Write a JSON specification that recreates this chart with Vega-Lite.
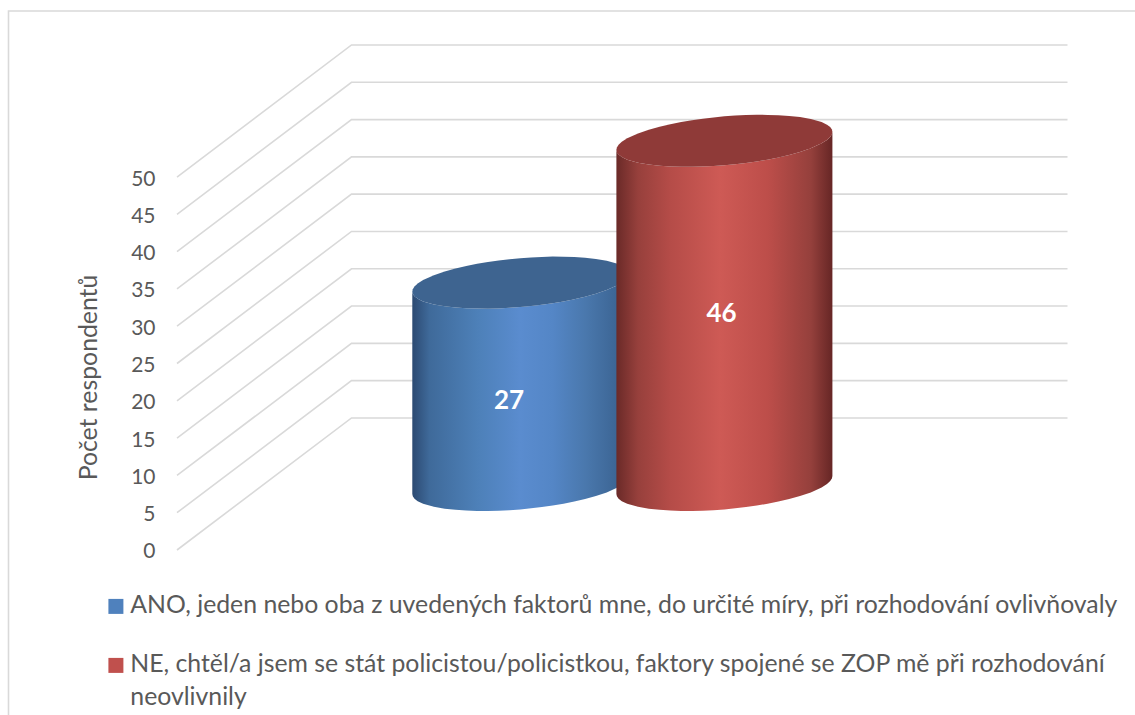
{"$schema":"https://vega.github.io/schema/vega-lite/v6.json","width":1135,"height":715,"autosize":{"type":"none"},"padding":0,"background":"white","config":{"view":{"stroke":null},"font":"Lato"},
"datasets":{
"frame":[{"x":8.5,"y":-22.12},{"x":8.5,"y":72.25},{"x":1135,"y":72.25}],
"grid":[
{"v":0,"x":177,"y":0},{"v":0,"x":351.5,"y":17.7},{"v":0,"x":1067.5,"y":17.7},
{"v":5,"x":177,"y":5},{"v":5,"x":351.5,"y":22.7},{"v":5,"x":1067.5,"y":22.7},
{"v":10,"x":177,"y":10},{"v":10,"x":351.5,"y":27.7},{"v":10,"x":1067.5,"y":27.7},
{"v":15,"x":177,"y":15},{"v":15,"x":351.5,"y":32.7},{"v":15,"x":1067.5,"y":32.7},
{"v":20,"x":177,"y":20},{"v":20,"x":351.5,"y":37.7},{"v":20,"x":1067.5,"y":37.7},
{"v":25,"x":177,"y":25},{"v":25,"x":351.5,"y":42.7},{"v":25,"x":1067.5,"y":42.7},
{"v":30,"x":177,"y":30},{"v":30,"x":351.5,"y":47.7},{"v":30,"x":1067.5,"y":47.7},
{"v":35,"x":177,"y":35},{"v":35,"x":351.5,"y":52.7},{"v":35,"x":1067.5,"y":52.7},
{"v":40,"x":177,"y":40},{"v":40,"x":351.5,"y":57.7},{"v":40,"x":1067.5,"y":57.7},
{"v":45,"x":177,"y":45},{"v":45,"x":351.5,"y":62.7},{"v":45,"x":1067.5,"y":62.7},
{"v":50,"x":177,"y":50},{"v":50,"x":351.5,"y":67.7},{"v":50,"x":1067.5,"y":67.7}],
"ano":[
{"x":412.3,"t":34.63,"m":34.63,"b":7.51},{"x":412.8,"t":34.96,"m":34.31,"b":7.19},{"x":414.5,"t":35.31,"m":34.00,"b":6.88},{"x":417.7,"t":35.72,"m":33.67,"b":6.55},{"x":423.1,"t":36.18,"m":33.32,"b":6.20},{"x":433.9,"t":36.84,"m":32.91,"b":5.79},{"x":444.7,"t":37.33,"m":32.66,"b":5.54},{"x":455.5,"t":37.74,"m":32.50,"b":5.38},{"x":466.3,"t":38.07,"m":32.40,"b":5.28},{"x":477.1,"t":38.36,"m":32.36,"b":5.24},{"x":487.9,"t":38.60,"m":32.35,"b":5.23},{"x":498.7,"t":38.81,"m":32.39,"b":5.27},{"x":509.5,"t":38.98,"m":32.46,"b":5.34},{"x":520.3,"t":39.12,"m":32.56,"b":5.44},{"x":531.1,"t":39.22,"m":32.70,"b":5.58},{"x":541.9,"t":39.29,"m":32.87,"b":5.75},{"x":552.7,"t":39.33,"m":33.08,"b":5.96},{"x":563.5,"t":39.32,"m":33.32,"b":6.20},{"x":574.3,"t":39.28,"m":33.61,"b":6.49},{"x":585.1,"t":39.18,"m":33.94,"b":6.82},{"x":595.9,"t":39.02,"m":34.35,"b":7.23},{"x":606.7,"t":38.77,"m":34.84,"b":7.72},{"x":617.5,"t":38.36,"m":35.50,"b":8.38},{"x":622.9,"t":38.01,"m":35.96,"b":8.84},{"x":626.1,"t":37.68,"m":36.37,"b":9.25},{"x":627.8,"t":37.37,"m":36.72,"b":9.60},{"x":628.3,"t":37.05,"m":37.05,"b":9.93}],
"ne":[
{"x":616.4,"t":53.64,"m":53.64,"b":7.51},{"x":616.9,"t":53.97,"m":53.32,"b":7.19},{"x":618.6,"t":54.32,"m":53.01,"b":6.88},{"x":621.8,"t":54.73,"m":52.68,"b":6.55},{"x":627.2,"t":55.19,"m":52.33,"b":6.20},{"x":638,"t":55.85,"m":51.92,"b":5.79},{"x":648.8,"t":56.34,"m":51.67,"b":5.54},{"x":659.6,"t":56.75,"m":51.51,"b":5.38},{"x":670.4,"t":57.08,"m":51.41,"b":5.28},{"x":681.2,"t":57.37,"m":51.37,"b":5.24},{"x":692,"t":57.61,"m":51.36,"b":5.23},{"x":702.8,"t":57.82,"m":51.40,"b":5.27},{"x":713.6,"t":57.99,"m":51.47,"b":5.34},{"x":724.4,"t":58.13,"m":51.57,"b":5.44},{"x":735.2,"t":58.23,"m":51.71,"b":5.58},{"x":746,"t":58.30,"m":51.88,"b":5.75},{"x":756.8,"t":58.34,"m":52.09,"b":5.96},{"x":767.6,"t":58.33,"m":52.33,"b":6.20},{"x":778.4,"t":58.29,"m":52.62,"b":6.49},{"x":789.2,"t":58.19,"m":52.95,"b":6.82},{"x":800,"t":58.03,"m":53.36,"b":7.23},{"x":810.8,"t":57.78,"m":53.85,"b":7.72},{"x":821.6,"t":57.37,"m":54.51,"b":8.38},{"x":827,"t":57.02,"m":54.97,"b":8.84},{"x":830.2,"t":56.69,"m":55.38,"b":9.25},{"x":831.9,"t":56.38,"m":55.73,"b":9.60},{"x":832.4,"t":56.06,"m":56.06,"b":9.93}],
"values":[
{"odpoved":"ANO, jeden nebo oba z uvedených faktorů mne, do určité míry, při rozhodování ovlivňovaly","n":27,"x":509,"y":20},
{"odpoved":"NE, chtěl/a jsem se stát policistou/policistkou, faktory spojené se ZOP mě při rozhodování neovlivnily","n":46,"x":721.5,"y":31.68}]
},
"layer":[
{"data":{"name":"frame"},"mark":{"type":"line","stroke":"#d9d9d9","strokeWidth":1.6},
 "encoding":{"x":{"field":"x","type":"quantitative","scale":{"domain":[0,1135],"nice":false,"zero":false},"axis":null},"y":{"field":"y","type":"quantitative","scale":{"domain":[-22.12,73.73],"nice":false,"zero":false},"axis":{"values":[0,5,10,15,20,25,30,35,40,45,50],"domain":false,"ticks":false,"grid":false,"offset":-155,"labelPadding":0,"labelOffset":2,"labelFont":"Lato","labelFontSize":21,"labelColor":"#595959","title":"Počet respondentů","titleFont":"Lato","titleFontSize":24.8,"titleFontWeight":"normal","titleColor":"#595959","titleX":-65.5,"titleY":377,"titleAngle":-90,"titleAlign":"center","titleBaseline":"middle"}}}},
{"data":{"name":"grid"},"mark":{"type":"line","stroke":"#d9d9d9","strokeWidth":1.6},
 "encoding":{"x":{"field":"x","type":"quantitative","axis":null},"y":{"field":"y","type":"quantitative"},"detail":{"field":"v"}}},
{"data":{"name":"ano"},"mark":{"type":"area","orient":"vertical","fill":{"gradient":"linear","x1":0,"x2":1,"y1":0,"y2":0,"stops":[{"offset":0,"color":"#2c4a72"},{"offset":0.08,"color":"#3f6a9a"},{"offset":0.3,"color":"#4d80b8"},{"offset":0.5,"color":"#5a8ccf"},{"offset":0.65,"color":"#5486c6"},{"offset":0.8,"color":"#4a78ad"},{"offset":0.95,"color":"#3c6594"},{"offset":1,"color":"#2c4a72"}]}},
 "encoding":{"x":{"field":"x","type":"quantitative","axis":null},"y":{"field":"m","type":"quantitative"},"y2":{"field":"b"}}},
{"data":{"name":"ano"},"mark":{"type":"area","orient":"vertical","fill":"#3e6490"},
 "encoding":{"x":{"field":"x","type":"quantitative","axis":null},"y":{"field":"t","type":"quantitative"},"y2":{"field":"m"}}},
{"data":{"name":"ne"},"mark":{"type":"area","orient":"vertical","fill":{"gradient":"linear","x1":0,"x2":1,"y1":0,"y2":0,"stops":[{"offset":0,"color":"#6a2a28"},{"offset":0.1,"color":"#97403c"},{"offset":0.25,"color":"#b54c48"},{"offset":0.48,"color":"#ce5a55"},{"offset":0.7,"color":"#bd4e4a"},{"offset":0.9,"color":"#95403c"},{"offset":1,"color":"#662625"}]}},
 "encoding":{"x":{"field":"x","type":"quantitative","axis":null},"y":{"field":"m","type":"quantitative"},"y2":{"field":"b"}}},
{"data":{"name":"ne"},"mark":{"type":"area","orient":"vertical","fill":"#8f3a38"},
 "encoding":{"x":{"field":"x","type":"quantitative","axis":null},"y":{"field":"t","type":"quantitative"},"y2":{"field":"m"}}},
{"data":{"name":"values"},"mark":{"type":"text","font":"Lato","fontSize":26,"fontWeight":"bold","color":"white"},
 "encoding":{"x":{"field":"x","type":"quantitative","axis":null},"y":{"field":"y","type":"quantitative"},"text":{"field":"n","type":"quantitative"}}},
{"data":{"name":"values"},"mark":{"type":"point","shape":"square","filled":true,"opacity":0},
 "encoding":{"x":{"field":"x","type":"quantitative","axis":null},"y":{"field":"y","type":"quantitative"},
  "color":{"field":"odpoved","type":"nominal","scale":{"range":["#4f81bd","#c0504d"]},
   "legend":{"orient":"none","legendX":103.5,"legendY":594,"title":null,"direction":"vertical","symbolType":"square","symbolSize":225,"symbolOpacity":1,"symbolStrokeWidth":0,"labelFont":"Lato","labelFontSize":24.8,"labelColor":"#595959","labelLimit":1100,"labelOffset":2,"rowPadding":33,"encoding":{"labels":{"lineHeight":{"value":33}}},"labelExpr":"indexof(datum.label,'NE')==0 ? ['NE, chtěl/a jsem se stát policistou/policistkou, faktory spojené se ZOP mě při rozhodování','neovlivnily'] : datum.label"}}}}
]}
